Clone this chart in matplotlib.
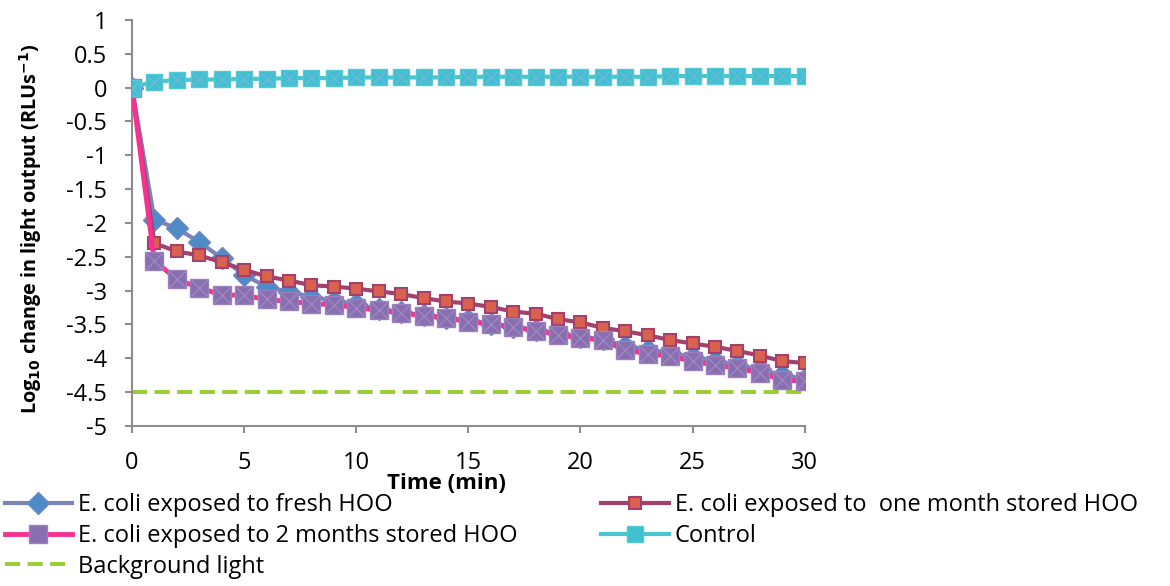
import numpy as np
import matplotlib.pyplot as plt

time_min = list(range(0, 31))

fresh = [0, -1.95, -2.08, -2.28, -2.52, -2.77, -2.94, -3.02, -3.09, -3.15, -3.20,
         -3.27, -3.32, -3.36, -3.40, -3.44, -3.49, -3.53, -3.58, -3.63, -3.68,
         -3.72, -3.82, -3.87, -3.92, -3.98, -4.04, -4.10, -4.16, -4.25, -4.30]

one_month = [0, -2.30, -2.42, -2.48, -2.58, -2.69, -2.79, -2.85, -2.92, -2.94, -2.97,
             -3.01, -3.05, -3.11, -3.16, -3.19, -3.24, -3.31, -3.34, -3.42, -3.47,
             -3.55, -3.60, -3.66, -3.73, -3.78, -3.83, -3.89, -3.96, -4.04, -4.07]

two_months = [0, -2.56, -2.83, -2.96, -3.06, -3.07, -3.13, -3.16, -3.19, -3.21, -3.25,
              -3.29, -3.33, -3.37, -3.40, -3.46, -3.49, -3.54, -3.59, -3.65, -3.70,
              -3.73, -3.88, -3.93, -3.97, -4.04, -4.10, -4.15, -4.21, -4.32, -4.34]

control = [0, 0.09, 0.11, 0.12, 0.12, 0.13, 0.13, 0.14, 0.14, 0.14, 0.15,
           0.15, 0.15, 0.15, 0.15, 0.16, 0.16, 0.16, 0.16, 0.16, 0.16,
           0.16, 0.16, 0.16, 0.17, 0.17, 0.17, 0.17, 0.17, 0.17, 0.17]

background = [-4.5] * 31

labels = ["E. coli exposed to fresh HOO",
          "E. coli exposed to  one month stored HOO",
          "E. coli exposed to 2 months stored HOO",
          "Control",
          "Background light"]


def main():
  plt.rcParams['font.family'] = ['Open Sans', 'DejaVu Sans']
  fig = plt.figure(figsize=(11.7, 5.86), dpi=100)
  ax = fig.add_axes([0.1128, 0.273, 0.575, 0.693])

  l_fresh, = ax.plot(time_min, fresh, color='#7C83B8', linewidth=3, marker='D',
                     markersize=11, markerfacecolor='#4F8BC9', markeredgecolor='#6F86BE',
                     markeredgewidth=1, label=labels[0], zorder=3)
  l_one, = ax.plot(time_min, one_month, color='#A3416C', linewidth=3, marker='s',
                   markersize=8, markerfacecolor='#D9614E', markeredgecolor='#A3416C',
                   markeredgewidth=1.5, label=labels[1], zorder=4)
  l_two, = ax.plot(time_min, two_months, color='#F6318F', linewidth=3.5, marker='s',
                   markersize=13, markerfacecolor='#8A6FB0', markeredgecolor='#9B80BF',
                   markeredgewidth=1, label=labels[2], zorder=5)
  ax.plot(time_min, two_months, linestyle='none', marker='x', markersize=11,
          markeredgecolor='#9C86C4', markeredgewidth=1, zorder=6)
  l_ctrl, = ax.plot(time_min, control, color='#4BC5CF', linewidth=3, marker='s',
                    markersize=11, markerfacecolor='#40C0D0', markeredgecolor='#55C8D4',
                    markeredgewidth=1, label=labels[3], zorder=7)
  ax.plot(time_min, control, linestyle='none', marker='x', markersize=9,
          markeredgecolor='#6FB8D8', markeredgewidth=1, zorder=8)
  l_bg, = ax.plot(time_min, background, color='#9ACD32', linewidth=2.8,
                  linestyle=(0, (3.9, 1.9)), label=labels[4], zorder=2)

  ax.set_xlim(0, 30)
  ax.set_ylim(-5, 1)
  ax.set_xticks(range(0, 31, 5))
  ax.set_yticks(np.arange(-5, 1.01, 0.5))
  ax.set_yticklabels(['%g' % v for v in np.arange(-5, 1.01, 0.5)])

  for s in ['top', 'right']:
    ax.spines[s].set_visible(False)
  for s in ['left', 'bottom']:
    ax.spines[s].set_color('#8C8C8C')
    ax.spines[s].set_linewidth(1.5)
  ax.tick_params(axis='both', direction='out', length=5, width=1.5, color='#8C8C8C',
                 labelsize=17)
  ax.tick_params(axis='x', pad=13)
  ax.tick_params(axis='y', pad=13)

  ax.set_xlabel("Time (min)", fontsize=16, fontweight='bold', va='top')
  ax.xaxis.set_label_coords(0.467, -0.116)
  ax.set_ylabel(r"Log$_{\mathbf{10}}$ change in light output (RLUs$^{\mathbf{-1}}$)",
                fontsize=14.3, fontweight='bold', va='center')
  ax.yaxis.set_label_coords(-0.151, 0.485)

  handles = [l_fresh, l_two, l_bg, l_one, l_ctrl]
  fig.legend(handles=handles, labels=[h.get_label() for h in handles], ncol=2,
             loc='upper left', bbox_to_anchor=(0.002, 0.162), frameon=False,
             fontsize=17, handlelength=2.85, handletextpad=0.25, columnspacing=3.55,
             labelspacing=0.28, borderaxespad=0, borderpad=0.1)

  fig.savefig('out.png', dpi=100)
  return

if __name__ == "__main__":
    main()
